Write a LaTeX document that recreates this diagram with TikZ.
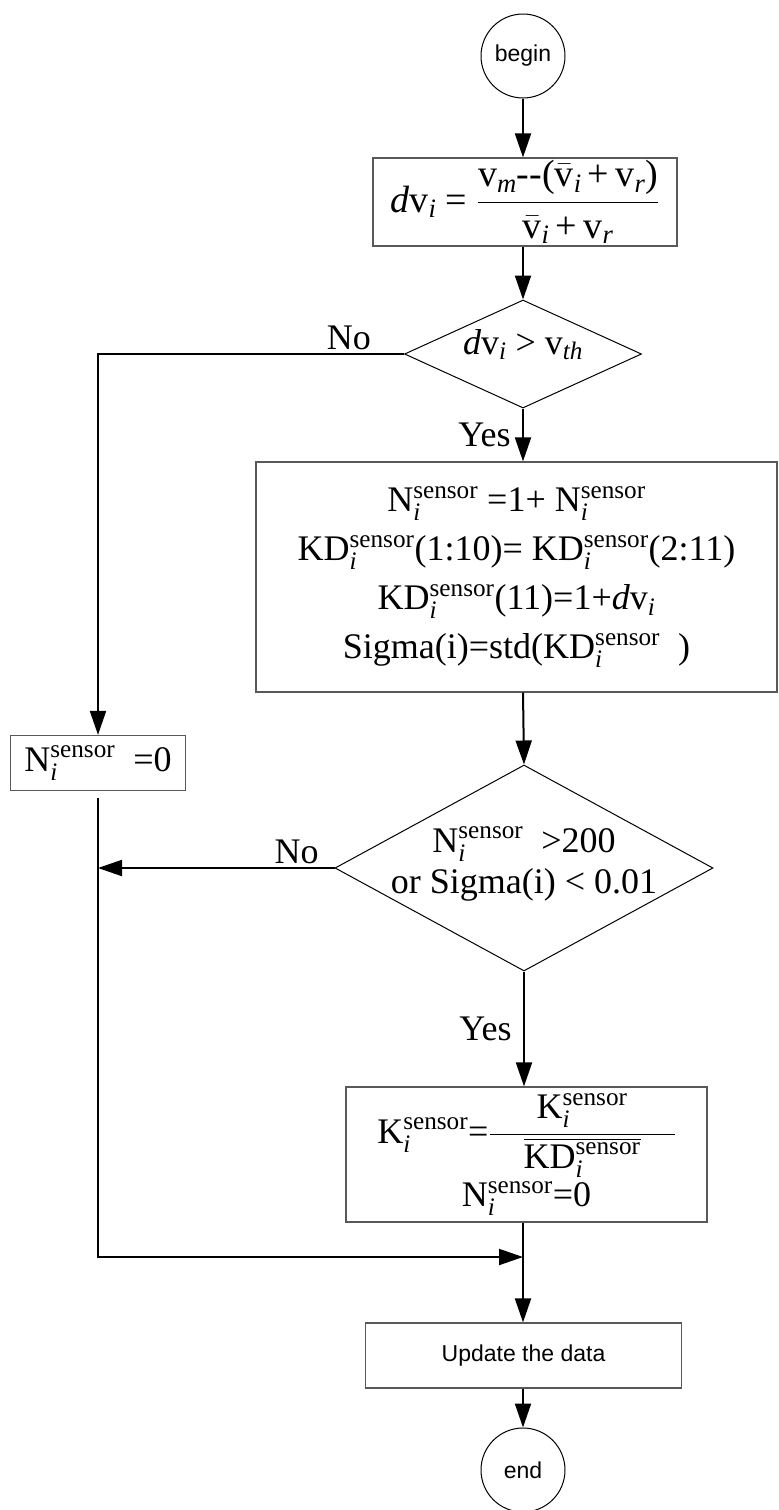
\documentclass[tikz,border=0pt]{standalone}
\usepackage{fix-cm}
\usepackage{amsmath}
\usepackage{fontspec}
\setmainfont{Liberation Serif}
\setsansfont{Liberation Sans}
\usetikzlibrary{shapes.geometric, arrows.meta, positioning, calc}

% symbol with "sensor" on top and italic i below
\newcommand{\sens}[1]{\text{#1}^{\text{sensor}}_{\textit{i}}}
\newcommand{\vel}{\text{v}}
\newcommand{\dv}{\text{\itshape d}\vel_{\textit{i}}}

\begin{document}
\begin{tikzpicture}[x=1pt, y=-1pt, >={Triangle[length=24pt,width=16pt]},
  every node/.style={font=\fontsize{36}{49}\selectfont},
  procbox/.style={draw=black!65, line width=1.2pt, rectangle, inner sep=0pt, align=center},
  decision/.style={draw, line width=1pt, diamond, inner sep=0pt},
  terminal/.style={draw, line width=1pt, circle, minimum size=84pt, inner sep=0pt, font=\fontsize{23}{27}\selectfont\sffamily},
  flow/.style={line width=2pt, ->}]
  \useasboundingbox (0,0) rectangle (779,1510);

  \node[terminal] (begin) at (523,56) {begin};
  \node[procbox, minimum width=304pt, minimum height=88pt, font=\fontsize{38}{46}\selectfont] (dv) at (525,202)
    {$\dv\text{ = }\dfrac{\vel_{\textit{m}}\text{-{}-(}\bar{\vel}_{\textit{i}}\text{\,+\,}\vel_{\textit{r}}\text{)}}{\bar{\vel}_{\textit{i}}\text{\,+\,}\vel_{\textit{r}}}$};
  \node[decision, minimum width=237pt, minimum height=108pt] (cmp) at (523,354)
    {\smash{\makebox[0pt]{$\dv\text{ > }\vel_{\textit{th}}$}}};
  \node[procbox, minimum width=521pt, minimum height=230pt] (count) at (516.5,577)
    {$\sens{N}\text{ =1+ }\sens{N}$\\
     $\sens{KD}\text{(1:10)= }\sens{KD}\text{(2:11)}$\\
     $\sens{KD}\text{(11)=1+}\dv$\\
     Sigma(i)=std($\sens{KD}$\ \ )};
  \node[procbox, minimum width=175pt, minimum height=55pt] (reset) at (98,763)
    {$\sens{N}\text{\ \ =0}$};
  \node[decision, minimum width=378pt, minimum height=206pt] (check) at (524,868)
    {\smash{\makebox[0pt]{\raisebox{-4pt}{\begin{tabular}{@{}c@{}}$\sens{N}$\ \ >200\\[-8pt] or Sigma(i) < 0.01\end{tabular}}}}};
  \node[procbox, minimum width=361pt, minimum height=135pt] (gain) at (526.5,1154.5)
    {$\sens{K}\text{=}\dfrac{\sens{K}}{\hspace{34pt}\overline{\sens{KD}}\hspace{34pt}}$\\[3pt]
     $\sens{N}\text{=0}$};
  \coordinate (join) at (523,1257);
  \node[procbox, minimum width=316pt, minimum height=65pt, font=\fontsize{23}{27}\selectfont\sffamily] (update) at (523.5,1355.5) {Update the data};
  \node[terminal] (stop) at (523,1470) {end};

  \draw[flow] (begin) -- (begin.south |- dv.north);
  \draw[flow] (begin.south |- dv.south) -- (cmp.north);
  \draw[flow] (cmp.west) -| node[pos=0.09, above] {No} (reset.north);
  \draw[flow] (cmp.south) -- node[left=8pt] {Yes} (cmp.south |- count.north);
  \draw[flow] (cmp.south |- count.south) -- (check.north);
  \draw[flow] (check.west) -- node[pos=0.16, above] {No} (check.west -| reset.south);
  \draw[flow] (check.south) -- node[left=8pt] {Yes} (check.south |- gain.north);
  \draw[flow] ([yshift=-7pt]reset.south) |- (join);
  \draw[flow] (join |- gain.south) -- (update.north -| join);
  \draw[flow] (update.south -| join) -- (stop.north);
\end{tikzpicture}
\end{document}
